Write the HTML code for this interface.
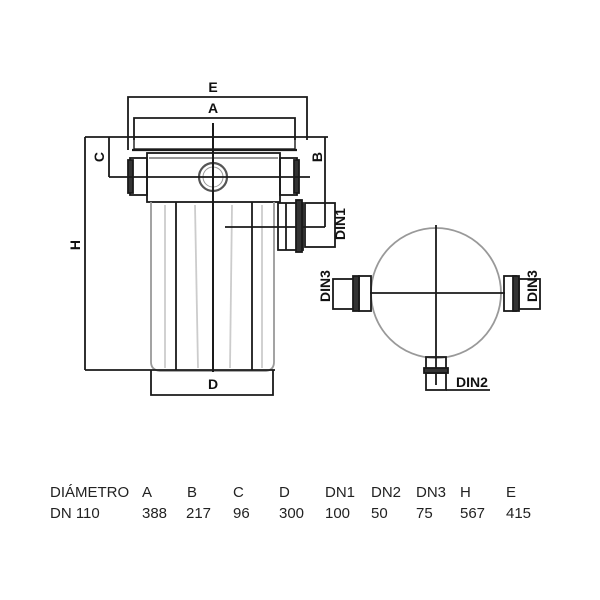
<!DOCTYPE html>
<html><head><meta charset="utf-8"><style>
body{margin:0;background:#fff;width:600px;height:600px;overflow:hidden}
svg{position:absolute;left:0;top:0}
</style></head><body>
<svg width="600" height="600" viewBox="0 0 600 600" font-family="Liberation Sans, sans-serif">
<g stroke="#1a1a1a" fill="none" stroke-width="1.8">
<!-- E -->
<polyline points="128,150 128,97 307,97 307,140"/>
<!-- A -->
<polyline points="134,140 134,118 295,118 295,140"/>
<!-- lid -->
<rect x="134" y="137" width="161" height="12" stroke-width="1.4"/>
<line x1="85" y1="137" x2="328" y2="137"/>
<line x1="132" y1="150" x2="297" y2="150" stroke-width="2.2"/>
<!-- collar -->
<rect x="147" y="153" width="133" height="49"/>
<line x1="149" y1="158" x2="278" y2="158" stroke="#888"/>
<!-- side pipes -->
<rect x="130" y="158" width="17" height="37"/>
<rect x="128" y="160" width="5" height="33" fill="#333"/>
<rect x="280" y="158" width="17" height="37"/>
<rect x="294" y="160" width="5" height="33" fill="#333"/>
<!-- central circle -->
<circle cx="213" cy="177" r="14" stroke="#555" stroke-width="2.2"/>
<circle cx="213" cy="177" r="10" stroke="#999" stroke-width="1"/>
<!-- C -->
<line x1="109" y1="137" x2="109" y2="177"/>
<line x1="109" y1="177" x2="310" y2="177"/>
<!-- body -->
<path d="M151,202 L151,362 Q151,370 160,371 L266,371 Q274,370 274,362 L274,202" stroke="#999"/>
<line x1="176" y1="202" x2="176" y2="370"/>
<line x1="252" y1="202" x2="252" y2="370"/>
<line x1="165" y1="205" x2="165" y2="368" stroke="#ccc"/>
<line x1="195" y1="205" x2="198" y2="368" stroke="#ccc"/>
<line x1="232" y1="205" x2="230" y2="368" stroke="#ccc"/>
<line x1="262" y1="205" x2="262" y2="368" stroke="#ccc"/>
<!-- H -->
<line x1="85" y1="137" x2="85" y2="370"/>
<line x1="85" y1="370" x2="275" y2="370"/>
<!-- D -->
<polyline points="151,370 151,395 273,395 273,370"/>
<!-- center vertical -->
<line x1="213" y1="123" x2="213" y2="372" stroke-width="2"/>
<!-- B -->
<line x1="325" y1="137" x2="325" y2="227"/>
<line x1="225" y1="227" x2="325" y2="227"/>
<!-- DIN1 pipe -->
<rect x="278" y="203" width="25" height="47"/>
<rect x="296" y="200" width="6" height="52" fill="#333"/>
<line x1="286" y1="203" x2="286" y2="250"/>
<rect x="305" y="203" width="30" height="44"/>
<!-- right view -->
<circle cx="436" cy="293" r="65" stroke="#999" stroke-width="1.8"/>
<line x1="436" y1="225" x2="436" y2="385"/>
<line x1="370" y1="293" x2="505" y2="293"/>
<!-- left pipe -->
<rect x="333" y="279" width="22" height="30"/>
<rect x="353" y="276" width="6" height="35" fill="#333"/>
<rect x="359" y="276" width="12" height="35"/>
<!-- right pipe -->
<rect x="504" y="276" width="12" height="35"/>
<rect x="513" y="276" width="6" height="35" fill="#333"/>
<rect x="519" y="279" width="21" height="30"/>
<!-- bottom pipe -->
<rect x="426" y="357" width="20" height="12"/>
<rect x="424" y="368" width="24" height="5" fill="#333"/>
<rect x="426" y="373" width="20" height="17"/>
<line x1="446" y1="390" x2="490" y2="390"/>
</g>
<g font-weight="bold" font-size="14" fill="#111" text-anchor="middle">
<text x="213" y="92">E</text>
<text x="213" y="113">A</text>
<text x="213" y="389">D</text>
<text transform="translate(104,157) rotate(-90)">C</text>
<text transform="translate(80,245) rotate(-90)">H</text>
<text transform="translate(322,157) rotate(-90)">B</text>
<text transform="translate(345,224) rotate(-90)">DIN1</text>
<text transform="translate(330,286) rotate(-90)">DIN3</text>
<text transform="translate(537,286) rotate(-90)">DIN3</text>
<text x="472" y="387">DIN2</text>
</g>
<g font-size="15" fill="#222">
<text x="50" y="497">DIÁMETRO</text>
<text x="142" y="497">A</text>
<text x="187" y="497">B</text>
<text x="233" y="497">C</text>
<text x="279" y="497">D</text>
<text x="325" y="497">DN1</text>
<text x="371" y="497">DN2</text>
<text x="416" y="497">DN3</text>
<text x="460" y="497">H</text>
<text x="506" y="497">E</text>
<text x="50" y="518">DN 110</text>
<text x="142" y="518">388</text>
<text x="186" y="518">217</text>
<text x="233" y="518">96</text>
<text x="279" y="518">300</text>
<text x="325" y="518">100</text>
<text x="371" y="518">50</text>
<text x="416" y="518">75</text>
<text x="460" y="518">567</text>
<text x="506" y="518">415</text>
</g>
</svg>
</body></html>
